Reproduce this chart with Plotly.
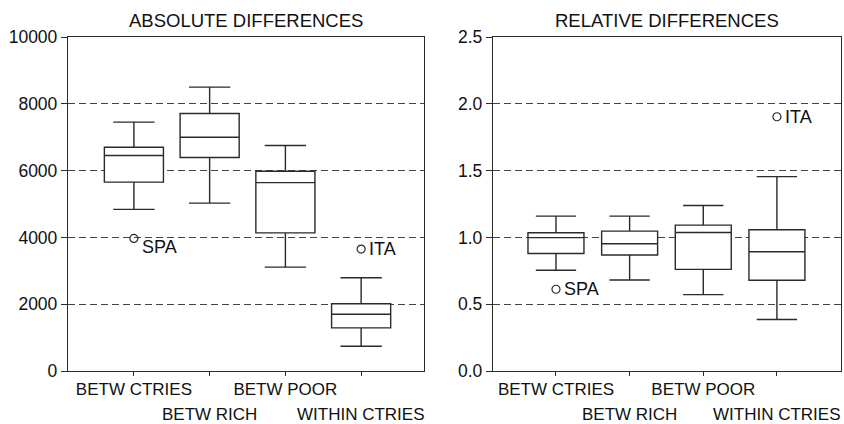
import plotly.graph_objects as go

categories = ["BETW CTRIES", "BETW RICH", "BETW POOR", "WITHIN CTRIES"]
row1_labels = ["BETW CTRIES", "", "BETW POOR", ""]
row2_labels = ["", "BETW RICH", "", "WITHIN CTRIES"]

# Absolute differences
abs_lower = [4840, 5025, 3110, 740]
abs_q1 = [5655, 6390, 4135, 1290]
abs_median = [6450, 7000, 5640, 1700]
abs_q3 = [6700, 7710, 5980, 2015]
abs_upper = [7450, 8500, 6750, 2790]
abs_out_x = [0, 3]
abs_out_y = [3970, 3650]
abs_out_lab = ["SPA", "ITA"]
abs_ticks = [0, 2000, 4000, 6000, 8000, 10000]
abs_ticktext = ["0", "2000", "4000", "6000", "8000", "10000"]

# Relative differences
rel_lower = [0.754, 0.681, 0.572, 0.386]
rel_q1 = [0.880, 0.868, 0.761, 0.679]
rel_median = [0.998, 0.953, 1.037, 0.893]
rel_q3 = [1.035, 1.047, 1.092, 1.057]
rel_upper = [1.159, 1.159, 1.239, 1.455]
rel_out_x = [0, 3]
rel_out_y = [0.612, 1.903]
rel_out_lab = ["SPA", "ITA"]
rel_ticks = [0, 0.5, 1.0, 1.5, 2.0, 2.5]
rel_ticktext = ["0.0", "0.5", "1.0", "1.5", "2.0", "2.5"]

xpos = list(range(len(categories)))
FONT = "Liberation Sans, Arial, sans-serif"
LC = "#2a2a2a"
TC = "#111111"

fig = go.Figure()
fig.add_trace(go.Box(x=xpos, q1=abs_q1, median=abs_median, q3=abs_q3,
                     lowerfence=abs_lower, upperfence=abs_upper,
                     boxpoints=False, width=0.78, whiskerwidth=0.7,
                     fillcolor="white", line=dict(color=LC, width=1.4),
                     xaxis="x", yaxis="y", showlegend=False, hoverinfo="skip"))
fig.add_trace(go.Scatter(x=abs_out_x, y=abs_out_y, mode="markers",
                         marker=dict(symbol="circle-open", size=8, color=LC, line=dict(width=1.2)),
                         xaxis="x", yaxis="y", showlegend=False))
fig.add_trace(go.Box(x=xpos, q1=rel_q1, median=rel_median, q3=rel_q3,
                     lowerfence=rel_lower, upperfence=rel_upper,
                     boxpoints=False, width=0.76, whiskerwidth=0.72,
                     fillcolor="white", line=dict(color=LC, width=1.4),
                     xaxis="x2", yaxis="y2", showlegend=False, hoverinfo="skip"))
fig.add_trace(go.Scatter(x=rel_out_x, y=rel_out_y, mode="markers",
                         marker=dict(symbol="circle-open", size=8, color=LC, line=dict(width=1.2)),
                         xaxis="x2", yaxis="y2", showlegend=False))

ann = []
shifts_abs = [(6, -9), (6, 0)]
for x, y, t, (dx, dy) in zip(abs_out_x, abs_out_y, abs_out_lab, shifts_abs):
    ann.append(dict(x=x, y=y, xref="x", yref="y", text=t, showarrow=False,
                    xanchor="left", xshift=dx, yshift=dy, font=dict(size=18, color=TC, family=FONT)))
for x, y, t in zip(rel_out_x, rel_out_y, rel_out_lab):
    ann.append(dict(x=x, y=y, xref="x2", yref="y2", text=t, showarrow=False,
                    xanchor="left", xshift=6, font=dict(size=18, color=TC, family=FONT)))
for xr in ["x", "x2"]:
    for x, t in zip(xpos, row2_labels):
        if t:
            ann.append(dict(x=x, y=1 - 414/424, xref=xr, yref="paper", text=t, showarrow=False,
                            xanchor="center", yanchor="middle", borderpad=0,
                            font=dict(size=17, color=TC, family=FONT)))
ann.append(dict(x=0.2915, y=0.981, xref="paper", yref="paper", text="ABSOLUTE DIFFERENCES",
                showarrow=False, xanchor="center", yanchor="top", font=dict(size=18.5, color=TC, family=FONT)))
ann.append(dict(x=0.790, y=0.981, xref="paper", yref="paper", text="RELATIVE DIFFERENCES",
                showarrow=False, xanchor="center", yanchor="top", font=dict(size=18.5, color=TC, family=FONT)))

xcommon = dict(tickmode="array", tickvals=xpos, ticktext=row1_labels, ticks="outside", ticklen=4,
               tickcolor=LC, showline=True, linecolor=LC, linewidth=1.3, mirror=True,
               tickangle=0, automargin=False, ticklabelstandoff=-2,
               showgrid=False, zeroline=False, tickfont=dict(size=17, color=TC, family=FONT))
ycommon = dict(tickmode="array", ticks="outside", ticklen=6, tickcolor=LC, showline=True, linecolor=LC,
               linewidth=1.3, mirror=True, showgrid=True, gridcolor="#444444", griddash="7px,4px", gridwidth=1.1,
               automargin=False, zeroline=False, tickfont=dict(size=17.5, color=TC, family=FONT))

fig.update_layout(
    width=844, height=424, paper_bgcolor="white", plot_bgcolor="white",
    margin=dict(l=0, r=0, t=0, b=0),
    font=dict(family=FONT, color=TC),
    xaxis=dict(domain=[68/844, 424/844], range=[-0.87, 3.83], anchor="y", **xcommon),
    yaxis=dict(domain=[1-371/424, 1-37/424], range=[0, 10000], tickvals=abs_ticks, ticktext=abs_ticktext,
               anchor="x", **ycommon),
    xaxis2=dict(domain=[493/844, 841/844], range=[-0.855, 3.87], anchor="y2", **xcommon),
    yaxis2=dict(domain=[1-371/424, 1-37/424], range=[0, 2.5], tickvals=rel_ticks, ticktext=rel_ticktext,
                anchor="x2", **ycommon),
    annotations=ann,
)

fig.write_html("out.html", config={"displayModeBar": False},
               post_script="document.body.style.margin='0px';document.body.style.overflow='hidden';")
